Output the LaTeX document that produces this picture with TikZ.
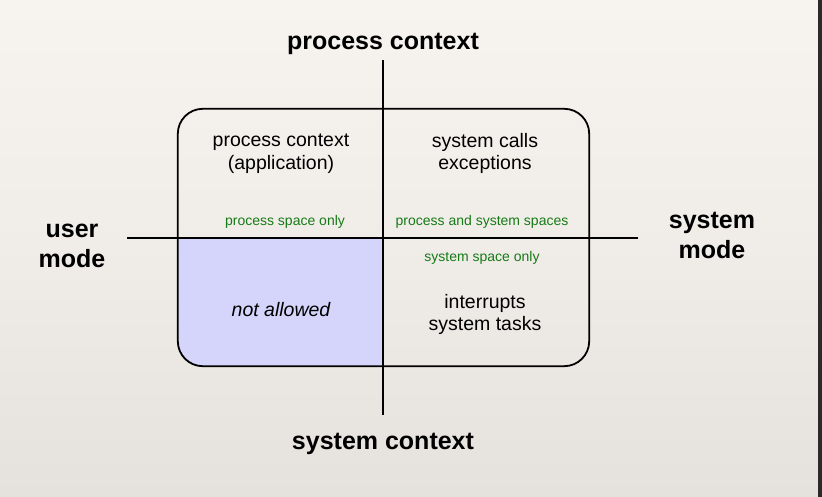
\documentclass[tikz,border=0pt]{standalone}
\usepackage{fontspec}
\setmainfont{Liberation Sans}
\usepackage{xcolor}
\usepackage{tikz}
\usetikzlibrary{positioning}

\definecolor{paper}{RGB}{247,244,239}
\definecolor{paperdark}{RGB}{229,226,221}
\definecolor{strip}{RGB}{42,42,44}
\definecolor{notallowedfill}{RGB}{213,213,251}
\definecolor{spacegreen}{RGB}{22,122,22}

\begin{document}
\begin{tikzpicture}[x=1pt, y=-1pt,
        modetxt/.style={inner sep=0pt, align=center, font=\fontsize{25}{30}\selectfont\bfseries},
        celltxt/.style={inner sep=0pt, align=center, font=\fontsize{19.5}{22.5}\selectfont},
        spacetxt/.style={inner sep=0pt, text=spacegreen, font=\fontsize{14}{16}\selectfont}]
        \useasboundingbox (0,0) rectangle (822,497);
        \shade[top color=paper, bottom color=paperdark, middle color=paper!60!paperdark] (0,0) rectangle (818,497);
        \fill[strip] (818,0) rectangle (822,497);

        \node[draw=none, minimum width=411pt, minimum height=257pt, inner sep=0pt] (frame) at (383.5,237.5) {};
        \begin{scope}
            \clip[rounded corners=25pt] (frame.south west) rectangle (frame.north east);
            \fill[notallowedfill] (frame.west) rectangle (frame.south);
        \end{scope}
        \draw[line width=1.8pt, rounded corners=25pt] (frame.south west) rectangle (frame.north east);

        \coordinate (vtop) at (383,60);
        \coordinate (vbot) at (383,415);
        \coordinate (hleft) at (127,238);
        \coordinate (hright) at (638,238);
        \draw[line width=1.5pt] (vtop) -- (vbot);
        \draw[line width=1.5pt] (hleft) -- (hright);

        \node[modetxt] (procctx) at (383,43.5) {process context};
        \node[modetxt] (sysctx) at (383,444) {system context};
        \node[modetxt] (usermode) at (72,246) {user\\mode};
        \node[modetxt] (sysmode) at (712,235.5) {system\\mode};

        \node[celltxt] (app) at (281,153.5) {process context\\(application)};
        \node[celltxt] (calls) at (485,153.5) {system calls\\exceptions};
        \node[celltxt, font=\fontsize{19.5}{22.5}\selectfont\itshape] (notallowed) at (281,309.5) {not allowed};
        \node[celltxt] (irq) at (485,314.5) {interrupts\\system tasks};

        \node[spacetxt] (pspace) at (285,222) {process space only};
        \node[spacetxt] (psspace) at (482,222) {process and system spaces};
        \node[spacetxt, below=22pt of psspace] (sspace) {system space only};
\end{tikzpicture}
\end{document}
